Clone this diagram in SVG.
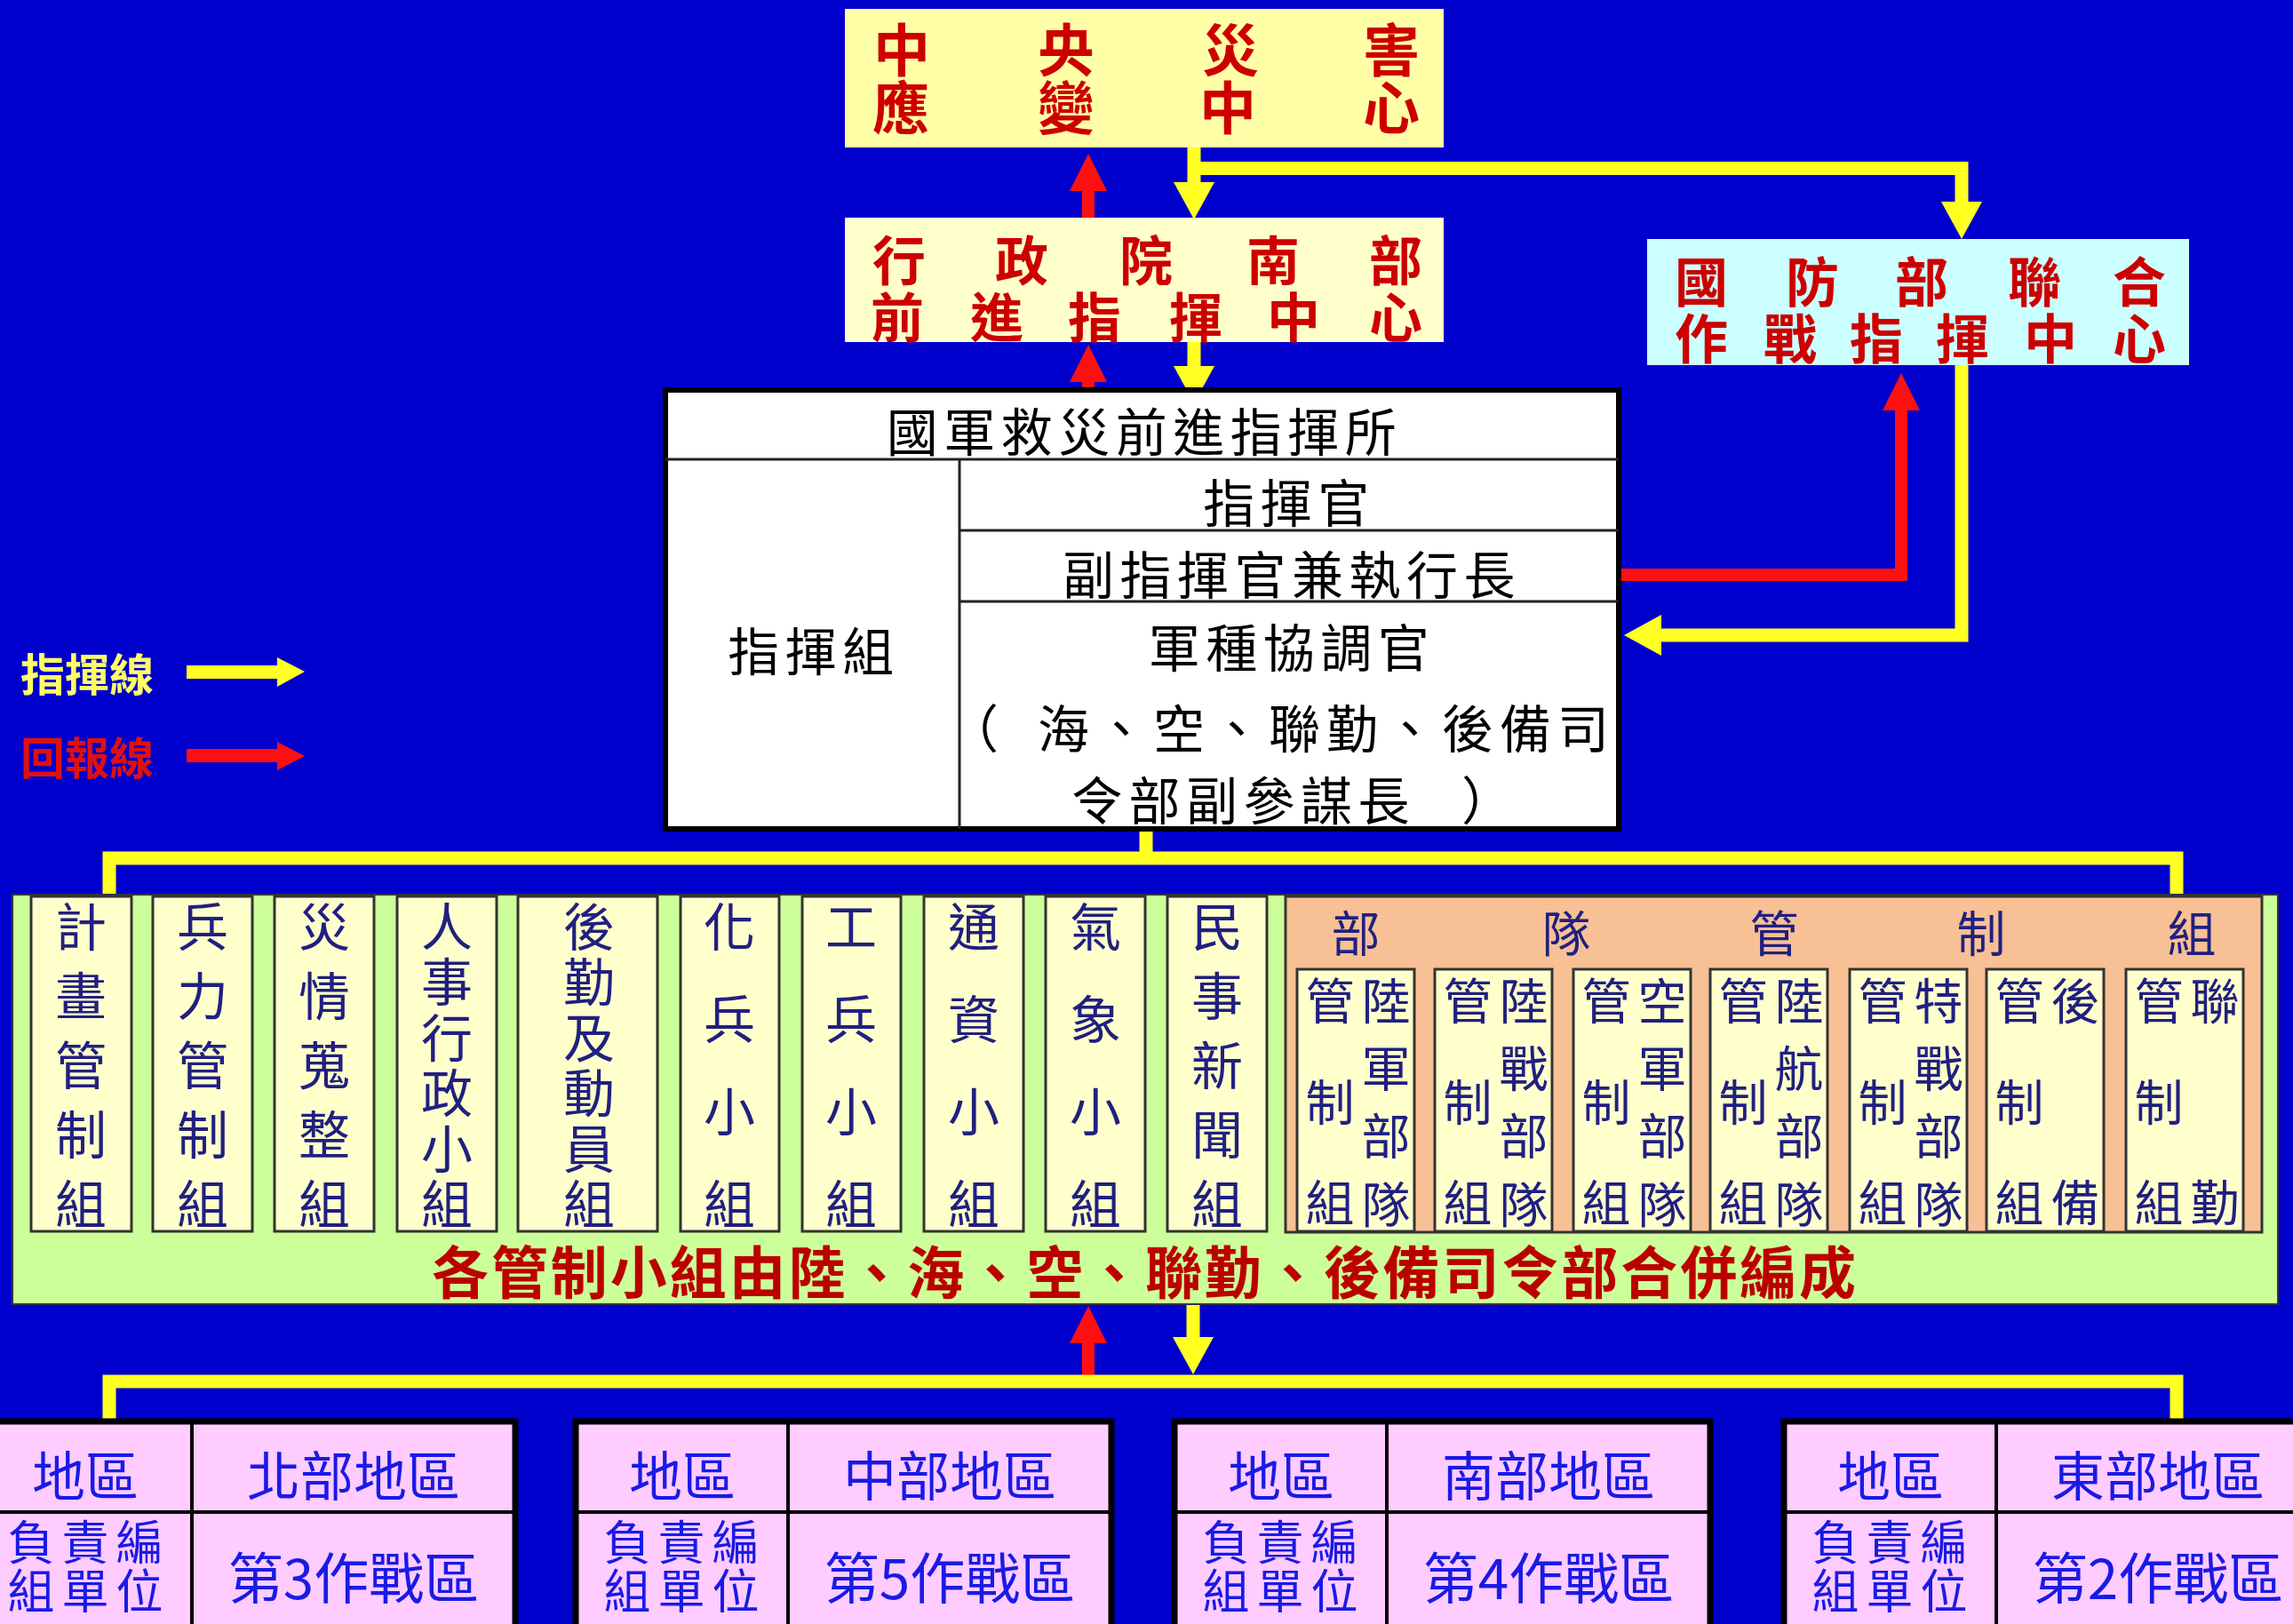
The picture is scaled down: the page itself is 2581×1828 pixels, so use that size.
<svg xmlns="http://www.w3.org/2000/svg" width="2581" height="1828" viewBox="0 0 2581 1828">
<style>
text{font-family:"Noto Sans CJK TC","Noto Sans CJK SC",sans-serif;dominant-baseline:central;text-anchor:middle}
.hd{font-weight:700;fill:#CC0000}
.tb{font-size:58px;fill:#000;letter-spacing:6.5px}
.tl{stroke:#222;stroke-width:3}
.cl{fill:#FFFFCC;stroke:#333;stroke-width:3}
.cn{font-size:58px;fill:#202080}
.sn{font-size:55px;fill:#202080}
.bx{fill:#FFCCFF;stroke:#000;stroke-width:7}
.bl{stroke:#000;stroke-width:4}
.bt{fill:#1A1AE6}
.rs{font-size:53px;letter-spacing:8px}
.y{fill:none;stroke:#FFFF22;stroke-width:15}
.r{fill:none;stroke:#FF1010;stroke-width:14}
</style>
<defs>
<marker id="ay" viewBox="0 0 42 46" refX="0" refY="23" markerWidth="42" markerHeight="46" markerUnits="userSpaceOnUse" orient="auto"><path d="M0,0 L42,23 L0,46 z" fill="#FFFF22"/></marker>
<marker id="ar" viewBox="0 0 42 42" refX="0" refY="21" markerWidth="42" markerHeight="42" markerUnits="userSpaceOnUse" orient="auto"><path d="M0,0 L42,21 L0,42 z" fill="#FF1010"/></marker>
</defs>
<rect x="0" y="0" width="2581" height="1828" fill="#0000CC"/>

<g id="connectors">
<path class="r" d="M1225,245 V215" marker-end="url(#ar)"/>
<path class="y" d="M1344,166 V205" marker-end="url(#ay)"/>
<path class="y" d="M1337,189.5 H2208 V227" marker-end="url(#ay)"/>
<path class="r" d="M1225,440 V430" marker-end="url(#ar)"/>
<path class="y" d="M1344,385 V412" marker-end="url(#ay)"/>
<path class="r" d="M1825,647 H2140 V462" marker-end="url(#ar)"/>
<path class="y" d="M2208,411 V715 H1870" marker-end="url(#ay)"/>
<path class="y" d="M1290,930 V966"/>
<path class="y" d="M123,1008 V966 H2450 V1008"/>
<path class="r" d="M1225,1555 V1512" marker-end="url(#ar)"/>
<path class="y" d="M1343,1466 V1505" marker-end="url(#ay)"/>
<path class="y" d="M123,1600 V1555 H2450 V1600"/>
</g>

<g id="central-emergency-center">
<rect x="951" y="10" width="674" height="156" fill="#FFFFA8"/>
<text class="hd" font-size="64" x="1015 1200 1385 1566" y="52">中央災害</text>
<text class="hd" font-size="64" x="1014 1200 1382 1566" y="117">應變中心</text>
</g>

<g id="executive-yuan-south-center">
<rect x="951" y="245" width="674" height="140" fill="#FFFFCC"/>
<text class="hd" font-size="60" x="1012 1150 1290 1433 1571" y="289">行政院南部</text>
<text class="hd" font-size="60" x="1010 1122 1232 1346 1456 1571" y="353">前進指揮中心</text>
</g>

<g id="mnd-joint-ops-center">
<rect x="1854" y="269" width="610" height="142" fill="#CCFFFF"/>
<text class="hd" font-size="60" x="1915 2040 2163 2290 2408" y="313">國防部聯合</text>
<text class="hd" font-size="60" x="1915 2015 2112 2209 2308 2408" y="377">作戰指揮中心</text>
</g>

<g id="legend">
<text x="23" y="756" font-size="50" font-weight="700" fill="#FFFF66" style="text-anchor:start">指揮線</text>
<rect x="210" y="749" width="103" height="15" fill="#FFFF22"/>
<polygon points="312,740 343,756 312,773" fill="#FFFF22"/>
<text x="23" y="850" font-size="50" font-weight="700" fill="#DD1111" style="text-anchor:start">回報線</text>
<rect x="210" y="843" width="103" height="15" fill="#FF1010"/>
<polygon points="312,835 343,851 312,867" fill="#FF1010"/>
</g>

<g id="forward-command-post">
<rect x="749" y="439" width="1073" height="494" fill="#FFFFFF" stroke="#000" stroke-width="6"/>
<line class="tl" x1="749" y1="517" x2="1822" y2="517"/>
<line class="tl" x1="1080" y1="517" x2="1080" y2="933"/>
<line class="tl" x1="1080" y1="597" x2="1822" y2="597"/>
<line class="tl" x1="1080" y1="677" x2="1822" y2="677"/>
<text class="tb" x="1288" y="483">國軍救災前進指揮所</text>
<text class="tb" x="916" y="730">指揮組</text>
<text class="tb" x="1451" y="563">指揮官</text>
<text class="tb" x="1454" y="644">副指揮官兼執行長</text>
<text class="tb" x="1454" y="726">軍種協調官</text>
<text class="tb" x="1066" y="817" style="text-anchor:start;letter-spacing:0">（</text>
<text class="tb" x="1818" y="817" style="text-anchor:end;letter-spacing:7px">海、空、聯勤、後備司</text>
<text class="tb" x="1206" y="898" style="text-anchor:start">令部副參謀長</text>
<text class="tb" x="1645" y="898" style="text-anchor:start;letter-spacing:0">）</text>
</g>

<g id="control-groups">
<rect x="14" y="1007" width="2550" height="461" fill="#CCFF99" stroke="#334" stroke-width="2"/>
<g id="group-planning"><rect class="cl" x="35" y="1009" width="113" height="377"/><text class="cn" x="91 91 91 91 91" y="1040 1118 1196 1274 1352">計畫管制組</text></g>
<g id="group-forces"><rect class="cl" x="172" y="1009" width="112" height="377"/><text class="cn" x="228 228 228 228 228" y="1040 1118 1196 1274 1352">兵力管制組</text></g>
<g id="group-disaster-info"><rect class="cl" x="309" y="1009" width="112" height="377"/><text class="cn" x="365 365 365 365 365" y="1040 1118 1196 1274 1352">災情蒐整組</text></g>
<g id="group-personnel"><rect class="cl" x="447" y="1009" width="112" height="377"/><text class="cn" x="503 503 503 503 503 503" y="1040 1102 1165 1227 1290 1352">人事行政小組</text></g>
<g id="group-logistics"><rect class="cl" x="583" y="1009" width="157" height="377"/><text class="cn" x="663 663 663 663 663 663" y="1040 1102 1165 1227 1290 1352">後勤及動員組</text></g>
<g id="group-chemical"><rect class="cl" x="766" y="1009" width="111" height="377"/><text class="cn" x="821 821 821 821" y="1040 1144 1248 1352">化兵小組</text></g>
<g id="group-engineer"><rect class="cl" x="903" y="1009" width="111" height="377"/><text class="cn" x="958 958 958 958" y="1040 1144 1248 1352">工兵小組</text></g>
<g id="group-comms"><rect class="cl" x="1040" y="1009" width="112" height="377"/><text class="cn" x="1096 1096 1096 1096" y="1040 1144 1248 1352">通資小組</text></g>
<g id="group-weather"><rect class="cl" x="1177" y="1009" width="112" height="377"/><text class="cn" x="1233 1233 1233 1233" y="1040 1144 1248 1352">氣象小組</text></g>
<g id="group-civil-affairs"><rect class="cl" x="1314" y="1009" width="112" height="377"/><text class="cn" x="1370 1370 1370 1370 1370" y="1040 1118 1196 1274 1352">民事新聞組</text></g>

<g id="unit-control">
<rect x="1447" y="1009" width="1099" height="378" fill="#F8C095" stroke="#333" stroke-width="3"/>
<text class="sn" x="1526 1763 1997 2230 2467" y="1047">部隊管制組</text>
<g id="unit-army"><rect class="cl" x="1460" y="1091" width="132" height="295"/><text class="sn" x="1497 1497 1497" y="1123 1237 1350">管制組</text><text class="sn" x="1560 1560 1560 1560" y="1123 1199 1275 1352">陸軍部隊</text></g>
<g id="unit-marine"><rect class="cl" x="1615" y="1091" width="132" height="295"/><text class="sn" x="1652 1652 1652" y="1123 1237 1350">管制組</text><text class="sn" x="1715 1715 1715 1715" y="1123 1199 1275 1352">陸戰部隊</text></g>
<g id="unit-airforce"><rect class="cl" x="1771" y="1091" width="132" height="295"/><text class="sn" x="1808 1808 1808" y="1123 1237 1350">管制組</text><text class="sn" x="1871 1871 1871 1871" y="1123 1199 1275 1352">空軍部隊</text></g>
<g id="unit-aviation"><rect class="cl" x="1925" y="1091" width="132" height="295"/><text class="sn" x="1962 1962 1962" y="1123 1237 1350">管制組</text><text class="sn" x="2025 2025 2025 2025" y="1123 1199 1275 1352">陸航部隊</text></g>
<g id="unit-special"><rect class="cl" x="2082" y="1091" width="132" height="295"/><text class="sn" x="2119 2119 2119" y="1123 1237 1350">管制組</text><text class="sn" x="2182 2182 2182 2182" y="1123 1199 1275 1352">特戰部隊</text></g>
<g id="unit-reserve"><rect class="cl" x="2236" y="1091" width="132" height="295"/><text class="sn" x="2273 2273 2273" y="1123 1237 1350">管制組</text><text class="sn" x="2336 2336" y="1123 1350">後備</text></g>
<g id="unit-combined"><rect class="cl" x="2393" y="1091" width="132" height="295"/><text class="sn" x="2430 2430 2430" y="1123 1237 1350">管制組</text><text class="sn" x="2493 2493" y="1123 1350">聯勤</text></g>
</g>
<text x="486" y="1428" font-size="64" font-weight="700" fill="#BB0000" style="text-anchor:start" textLength="1603" lengthAdjust="spacing">各管制小組由陸、海、空、聯勤、後備司令部合併編成</text>
</g>

<g id="region-north">
<rect class="bx" x="-23" y="1600" width="603" height="260"/>
<line class="bl" x1="216" y1="1600" x2="216" y2="1860"/><line class="bl" x1="-23" y1="1702" x2="580" y2="1702"/>
<text class="bt" font-size="60" x="96" y="1657">地區</text>
<text class="bt" font-size="60" x="398" y="1657">北部地區</text>
<text class="bt rs" x="100" y="1733">負責編</text>
<text class="bt rs" x="100" y="1788">組單位</text>
<text class="bt" font-size="62" x="398" y="1773">第3作戰區</text>
</g>
<g id="region-central">
<rect class="bx" x="648" y="1600" width="603" height="260"/>
<line class="bl" x1="887" y1="1600" x2="887" y2="1860"/><line class="bl" x1="648" y1="1702" x2="1251" y2="1702"/>
<text class="bt" font-size="60" x="768" y="1657">地區</text>
<text class="bt" font-size="60" x="1069" y="1657">中部地區</text>
<text class="bt rs" x="771" y="1733">負責編</text>
<text class="bt rs" x="771" y="1788">組單位</text>
<text class="bt" font-size="62" x="1069" y="1773">第5作戰區</text>
</g>
<g id="region-south">
<rect class="bx" x="1322" y="1600" width="603" height="260"/>
<line class="bl" x1="1561" y1="1600" x2="1561" y2="1860"/><line class="bl" x1="1322" y1="1702" x2="1925" y2="1702"/>
<text class="bt" font-size="60" x="1442" y="1657">地區</text>
<text class="bt" font-size="60" x="1743" y="1657">南部地區</text>
<text class="bt rs" x="1445" y="1733">負責編</text>
<text class="bt rs" x="1445" y="1788">組單位</text>
<text class="bt" font-size="62" x="1743" y="1773">第4作戰區</text>
</g>
<g id="region-east">
<rect class="bx" x="2008" y="1600" width="603" height="260"/>
<line class="bl" x1="2247" y1="1600" x2="2247" y2="1860"/><line class="bl" x1="2008" y1="1702" x2="2611" y2="1702"/>
<text class="bt" font-size="60" x="2128" y="1657">地區</text>
<text class="bt" font-size="60" x="2429" y="1657">東部地區</text>
<text class="bt rs" x="2131" y="1733">負責編</text>
<text class="bt rs" x="2131" y="1788">組單位</text>
<text class="bt" font-size="62" x="2429" y="1773">第2作戰區</text>
</g>
</svg>
